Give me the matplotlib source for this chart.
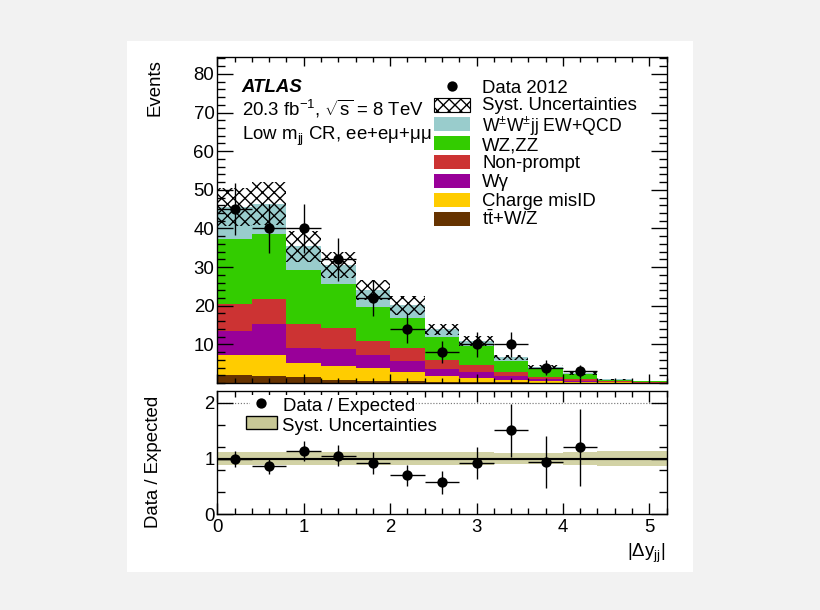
import numpy as np
import matplotlib
matplotlib.use('Agg')
import matplotlib.pyplot as plt
from matplotlib.patches import Rectangle
from matplotlib.lines import Line2D
from matplotlib.ticker import MultipleLocator, FixedLocator

# bins in |dy_jj|
edges = [0.0, 0.4, 0.8, 1.2, 1.6, 2.0, 2.4, 2.8, 3.2, 3.6, 4.0, 4.4, 4.8, 5.2]

# expected events per process (stacked bottom -> top)
ttv = [2.2, 1.9, 1.45, 0.9, 0.6, 0.4, 0.3, 0.25, 0.2, 0.1, 0.05, 0.03, 0.01]
misid = [5.0, 5.3, 3.75, 3.5, 3.3, 2.4, 1.4, 1.05, 0.65, 0.4, 0.25, 0.1, 0.05]
wgamma = [6.2, 8.0, 3.9, 4.5, 3.3, 2.9, 1.8, 1.5, 0.85, 0.5, 0.3, 0.12, 0.05]
nonprompt = [7.1, 6.6, 6.3, 5.3, 3.8, 3.3, 2.5, 1.8, 1.1, 0.55, 0.5, 0.15, 0.09]
wzzz = [16.7, 16.7, 13.8, 11.3, 8.8, 7.8, 5.9, 5.0, 2.9, 2.0, 1.2, 0.45, 0.2]
wwjj = [8.4, 7.9, 6.2, 5.0, 4.2, 3.3, 2.0, 1.3, 0.95, 0.7, 0.2, 0.1, 0.05]
# systematic uncertainty on total (absolute)
syst = [5.0, 5.5, 4.0, 3.4, 2.6, 2.4, 1.5, 1.2, 0.65, 0.45, 0.3, 0.13, 0.06]
# observed events
data = [45, 40, 40, 32, 22, 14, 8, 10, 10, 4, 3, 0, 0]

labels = [u'W$^{\\pm}$W$^{\\pm}$jj EW+QCD', 'WZ,ZZ', 'Non-prompt', u'Wγ',
          'Charge misID', r'$\mathrm{t\bar{t}}$+W/Z']
colors = ['#99cccc', '#33cc00', '#cc3333', '#990099', '#ffcc00', '#663300']

W, H = 820, 610
DPI = 140
plt.rcParams['font.family'] = ['Liberation Sans', 'DejaVu Sans']
plt.rcParams['mathtext.fontset'] = 'custom'
plt.rcParams['mathtext.rm'] = 'Liberation Sans'
plt.rcParams['mathtext.it'] = 'Liberation Sans:italic'
plt.rcParams['mathtext.bf'] = 'Liberation Sans:bold'
plt.rcParams['hatch.linewidth'] = 0.7
FS = 9.6
HATCH = 'xxxx'


def fx(x):
    return x / W


def fy(y):
    return 1 - y / H


fig = plt.figure(figsize=(W / DPI, H / DPI), dpi=DPI, facecolor='#f2f2f2')
# white canvas
fig.patches.append(Rectangle((fx(126.7), fy(572)), (693 - 126.7) / W, (572 - 40.7) / H,
                             transform=fig.transFigure, facecolor='white', edgecolor='none', zorder=-5))

ax = fig.add_axes([fx(217.3), fy(383), (666.6 - 217.3) / W, (383 - 57.3) / H])
rax = fig.add_axes([fx(217.3), fy(514.3), (666.6 - 217.3) / W, (514.3 - 391) / H])

edges = np.array(edges)
centers = (edges[:-1] + edges[1:]) / 2
widths = np.diff(edges)

# stack from the bottom
comps = [ttv, misid, wgamma, nonprompt, wzzz, wwjj]
comp_cols = colors[::-1]
base = np.zeros(len(centers))
for vals, c in zip(comps, comp_cols):
    top = base + np.array(vals)
    ax.stairs(top, edges, baseline=base, fill=True, color=c, lw=0)
    base = top
total = base
syst = np.array(syst)

ax.bar(centers, 2 * syst, width=widths, bottom=total - syst, fill=False,
       hatch=HATCH, edgecolor='black', linewidth=0, zorder=3)

data = np.array(data, dtype=float)
m = data > 0
ax.errorbar(centers[m], data[m], xerr=widths[m] / 2, yerr=np.sqrt(data[m]),
            fmt='o', color='black', ms=4.3, elinewidth=0.7, capsize=0, zorder=5)

ax.set_xlim(0, 5.2)
ax.set_ylim(0, 84.3)
ax.xaxis.set_major_locator(MultipleLocator(1))
ax.xaxis.set_minor_locator(MultipleLocator(0.2))
ax.yaxis.set_major_locator(FixedLocator(range(10, 81, 10)))
ax.yaxis.set_minor_locator(MultipleLocator(2))
ax.tick_params(which='both', direction='in', top=True, right=True, width=0.7,
               labelbottom=False, labelsize=FS, pad=1.5)
ax.tick_params(axis='y', which='major', length=8.2)
ax.tick_params(axis='y', which='minor', length=4)
ax.tick_params(axis='x', which='major', length=4.6)
ax.tick_params(axis='x', which='minor', length=2.6)

# ratio panel
rel = syst / total
rax.stairs(1 + rel, edges, baseline=1 - rel, fill=True, color='#d2d2a5', lw=0)
rax.axhline(1, color='black', lw=1.1, zorder=3)
rax.axhline(2, color='#777777', lw=0.6, ls=(0, (1, 1.5)), zorder=1)
ratio = data / total
rerr = np.sqrt(data) / total
rax.errorbar(centers[m], ratio[m], xerr=widths[m] / 2, yerr=rerr[m],
             fmt='o', color='black', ms=4.3, elinewidth=0.7, capsize=0, zorder=5)
rax.set_xlim(0, 5.2)
rax.set_ylim(0, 2.21)
rax.xaxis.set_major_locator(MultipleLocator(1))
rax.xaxis.set_minor_locator(MultipleLocator(0.2))
rax.yaxis.set_major_locator(FixedLocator([0, 1, 2]))
rax.yaxis.set_minor_locator(MultipleLocator(0.4))
rax.tick_params(which='both', direction='in', top=True, right=True, width=0.7, labelsize=FS)
rax.tick_params(axis='y', which='major', length=8.2, pad=1.5)
rax.tick_params(axis='y', which='minor', length=4)
rax.tick_params(axis='x', which='major', length=5.7, pad=2.4)
rax.tick_params(axis='x', which='minor', length=3.1)

for a in (ax, rax):
    for s in a.spines.values():
        s.set_linewidth(0.7)

# labels
fig.text(fx(155), fy(88), 'Events', rotation=90, ha='center', va='center', fontsize=FS)
fig.text(fx(153), fy(462), 'Data / Expected', rotation=90, ha='center', va='center', fontsize=FS)
fig.text(fx(665), fy(557), r'|$\Delta$y$_{\mathrm{jj}}$|', ha='right', va='baseline', fontsize=FS)

fig.text(fx(241.5), fy(91.7), 'ATLAS', fontsize=FS, fontweight='bold', style='italic', va='baseline')
fig.text(fx(241.5), fy(116), r'20.3 fb$^{-1}$, $\sqrt{\mathrm{s}}$ = 8 TeV', fontsize=FS, va='baseline')
fig.text(fx(241.5), fy(140), u'Low m$_{\\mathrm{jj}}$ CR, ee+eμ+μμ', fontsize=FS, va='baseline')

# main legend
row0, dy = 86.3, 18.95
fig.lines.append(Line2D([fx(452)], [fy(row0)], marker='o', ms=4.3, color='black',
                        transform=fig.transFigure))
fig.text(fx(482), fy(row0 + 6.4), 'Data 2012', fontsize=FS, va='baseline')
leg_items = [('Syst. Uncertainties', None)] + list(zip(labels, colors))
# small nudges so the taller 3rd row clears its neighbours
nudge = [-1.5, 1.0, 0.6, 0, 0, 0, 0]
for i, (lab, col) in enumerate(leg_items):
    yc = row0 + dy * (i + 1)
    if col is None:
        r = Rectangle((fx(434), fy(yc + 7)), 36 / W, 14 / H, transform=fig.transFigure,
                      facecolor='white', edgecolor='black', hatch=HATCH, lw=0.6)
    else:
        r = Rectangle((fx(434), fy(yc + 7)), 36 / W, 14 / H, transform=fig.transFigure,
                      facecolor=col, edgecolor='none')
    fig.patches.append(r)
    fs = FS - 0.5 if i == 1 else FS
    fig.text(fx(482), fy(yc + 6.4 + nudge[i]), lab, fontsize=fs, va='baseline')

# ratio legend (white box hides the dotted line behind it)
fig.patches.append(Rectangle((fx(250), fy(409)), (413 - 250) / W, 14 / H, transform=fig.transFigure,
                             facecolor='white', edgecolor='none'))
fig.lines.append(Line2D([fx(261)], [fy(403)], marker='o', ms=4.3, color='black',
                        transform=fig.transFigure))
fig.text(fx(283), fy(411), 'Data / Expected', fontsize=FS, va='baseline')
fig.patches.append(Rectangle((fx(246), fy(429.3)), 31 / W, 13.6 / H, transform=fig.transFigure,
                             facecolor='#c8c896', edgecolor='black', lw=0.7))
fig.text(fx(282), fy(430.7), 'Syst. Uncertainties', fontsize=FS, va='baseline')

fig.savefig('out.png', dpi=DPI, facecolor=fig.get_facecolor())
